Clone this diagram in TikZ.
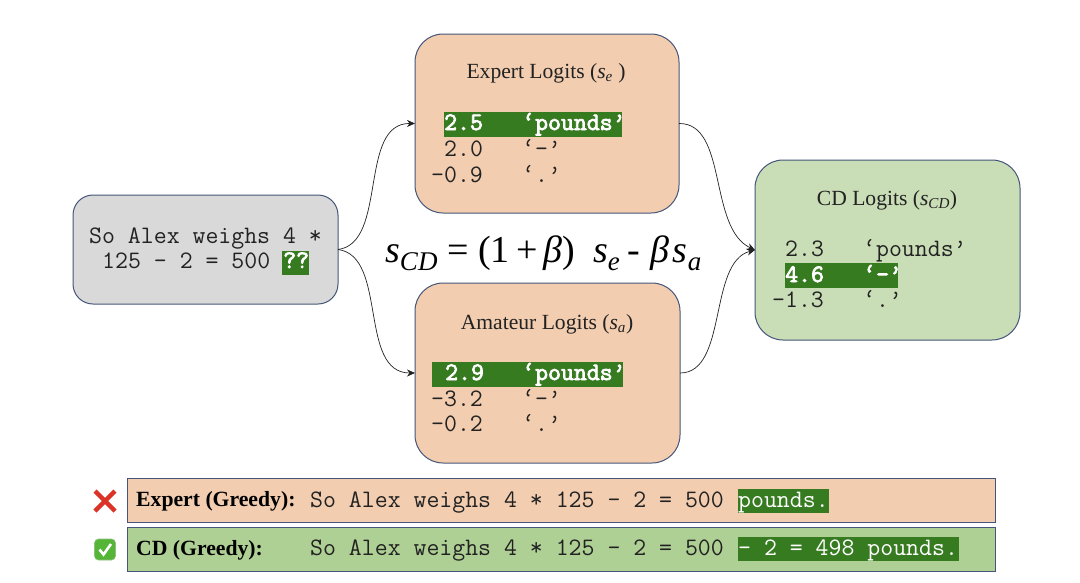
\documentclass[tikz,border=0pt]{standalone}
\usepackage{fontspec}
\setmainfont{Liberation Serif}
\newfontfamily\heavymono[FakeBold=3]{Latin Modern Mono}
\usetikzlibrary{arrows.meta}
\definecolor{peach}{HTML}{F2CDB0}
\definecolor{greybox}{HTML}{D9D9D9}
\definecolor{lightgreen}{HTML}{C9DDB6}
\definecolor{midgreen}{HTML}{AFD095}
\definecolor{hl}{HTML}{377B21}
\definecolor{edge}{HTML}{46567A}
\definecolor{ink}{HTML}{222222}
\definecolor{crossred}{HTML}{DB3328}
\definecolor{tickgreen}{HTML}{55B536}
\definecolor{tickedge}{HTML}{8FBF80}
\newcommand{\formsub}[1]{\raisebox{-0.22em}{\fontsize{27}{30}\selectfont\textit{#1}}}
\tikzset{
  card/.style={draw=edge,line width=1pt,rounded corners=28pt,inner sep=0pt,outer sep=0pt,anchor=north west},
  strip/.style={draw=edge,line width=1pt,inner sep=0pt,outer sep=0pt,anchor=north west},
  mono/.style={inner sep=0pt,anchor=base west,text=ink,font=\ttfamily\fontsize{25.1}{27}\selectfont},
  monob/.style={inner sep=0pt,anchor=base west,text=white,font=\heavymono\fontsize{25.1}{27}\selectfont},
  hlbox/.style={fill=hl,draw=none,inner sep=0pt,outer sep=0pt,anchor=north west},
  cardtitle/.style={inner sep=0pt,anchor=base,text=ink,font=\fontsize{21.6}{24}\selectfont},
  striptitle/.style={inner sep=0pt,anchor=base west,text=black,font=\bfseries\fontsize{21.7}{24}\selectfont},
  formula/.style={inner sep=0pt,anchor=base west,text=black,font=\fontsize{38}{42}\selectfont},
  link/.style={draw=ink,line width=0.7pt,-{Stealth[length=8pt,width=7pt]}}
}
\begin{document}
\begin{tikzpicture}[x=1pt,y=-1pt]
\useasboundingbox (0,0) rectangle (1080,582);
% boxes
\node[card,rounded corners=20pt,fill=greybox,minimum width=265pt,minimum height=109pt] (prompt) at (73,195) {};
\node[card,fill=peach,minimum width=264pt,minimum height=179pt] (expert) at (415,34) {};
\node[card,fill=peach,minimum width=265pt,minimum height=180pt] (amateur) at (415,283) {};
\node[card,fill=lightgreen,minimum width=265pt,minimum height=180pt] (cd) at (755,160) {};
\node[strip,fill=peach,minimum width=868pt,minimum height=44pt] (rowa) at (127,478) {};
\node[strip,fill=midgreen,minimum width=868pt,minimum height=44pt] (rowb) at (127,527) {};
% connectors
\draw[link] (prompt.east) .. controls (388,243) and (358,123) .. (expert.west);
\draw[link] (prompt.east) .. controls (388,256) and (358,373) .. (amateur.west);
\draw[link] (expert.east) .. controls (728,123) and (708,228) .. (cd.west);
\draw[link] (amateur.east) .. controls (728,373) and (708,262) .. (cd.west);
% prompt
\node[mono] (p1) at (89,243) {So Alex weighs 4 *};
\node[mono] (p2) at (102,268) {125 - 2 = 500};
\node[hlbox,minimum width=27pt,minimum height=24pt] (pq) at (282,251) {};
\node[monob] (p3) at (283,268) {??};
% formula
\node[formula] (f1) at (385,262) {\textit{s}\formsub{CD}};
\node[formula] (f2) at (447,262) {=};
\node[formula] (f3) at (478,262) {(1\,+\,\textit{β})};
\node[formula] (f4) at (593,262) {\textit{s}\formsub{e}};
\node[formula] (f5) at (627,262) {-};
\node[formula] (f6) at (650,262) {\textit{β}\hspace{3pt}\textit{s}\hspace{1pt}\formsub{a}};
% expert
\node[cardtitle] (et) at (546,78) {Expert Logits (\textit{s}\textsubscript{\textit{e}} )};
\node[hlbox,minimum width=178pt,minimum height=25pt] (eh) at (444,112) {};
\node[monob] (e1) at (444,130) {2.5};
\node[monob] (e1b) at (522,130) {‘pounds’};
\node[mono] (e2) at (444,156) {2.0};
\node[mono] (e2b) at (522,156) {‘-’};
\node[mono] (e3) at (431,182) {-0.9};
\node[mono] (e3b) at (522,182) {‘.’};
% amateur
\node[cardtitle] (at) at (547,329) {Amateur Logits (\textit{s}\textsubscript{\textit{a}})};
\node[hlbox,minimum width=191pt,minimum height=25pt] (ah) at (432,362) {};
\node[monob] (a1) at (445,380) {2.9};
\node[monob] (a1b) at (522,380) {‘pounds’};
\node[mono] (a2) at (431,406) {-3.2};
\node[mono] (a2b) at (522,406) {‘-’};
\node[mono] (a3) at (431,431) {-0.2};
\node[mono] (a3b) at (522,431) {‘.’};
% cd
\node[cardtitle] (ct) at (887,205) {CD Logits (\textit{s}\textsubscript{\textit{CD}})};
\node[hlbox,minimum width=113pt,minimum height=25pt] (ch) at (785,263) {};
\node[mono] (c1) at (785,256) {2.3};
\node[mono] (c1b) at (863,256) {‘pounds’};
\node[monob] (c2) at (785,282) {4.6};
\node[monob] (c2b) at (863,282) {‘-’};
\node[mono] (c3) at (772,307) {-1.3};
\node[mono] (c3b) at (863,307) {‘.’};
% bottom strips
\node[striptitle] (ra) at (136,506) {Expert (Greedy):};
\node[mono] (rat) at (310,507) {So Alex weighs 4 * 125 - 2 = 500};
\node[hlbox,minimum width=91pt,minimum height=24pt] (rah) at (738,489) {};
\node[mono,text=white] (rat2) at (738,507) {pounds.};
\node[striptitle] (rb) at (136,555) {CD (Greedy):};
\node[mono] (rbt) at (310,555) {So Alex weighs 4 * 125 - 2 = 500};
\node[hlbox,minimum width=221pt,minimum height=24pt] (rbh) at (738,537) {};
\node[mono,text=white] (rbt2) at (738,555) {- 2 = 498 pounds.};
% icons
\draw[draw=crossred,line width=4.4pt] (95,491) -- (115,511) (115,491) -- (95,511);
\filldraw[fill=tickgreen,draw=tickedge,line width=0.6pt,rounded corners=4pt] (94.5,539) rectangle (115.5,560);
\draw[white,line width=2.6pt] (99.5,549.5) -- (103.5,554.5) -- (111,544);
\end{tikzpicture}
\end{document}
